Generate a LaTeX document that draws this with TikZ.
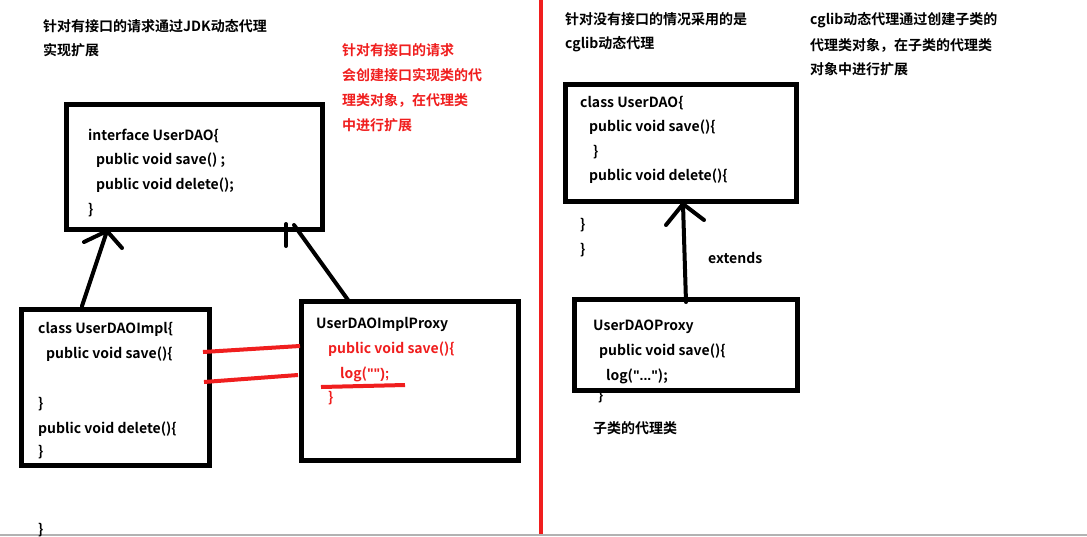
\documentclass[tikz,border=0pt]{standalone}
\usepackage{fontspec}
\setmainfont{Noto Sans CJK SC}[BoldFont={* Bold}]
\newfontfamily\latf{Liberation Sans}
\definecolor{myred}{RGB}{240,30,30}
\begin{document}
\begin{tikzpicture}[x=1pt,y=-1pt,
 t/.style={anchor=west,inner sep=0pt,font=\fontsize{14}{16}\selectfont\bfseries},
 r/.style={t,text=myred},
 bx/.style={draw,line width=5pt},
 ar/.style={line width=4pt,line cap=round},
 rl/.style={draw=myred,line width=4pt}]
\useasboundingbox (0,0) rectangle (1087,536);
\fill[white] (0,0) rectangle (1087,536);
\draw[myred,line width=4pt] (541,0) -- (541,536);
\draw[gray!60,line width=1.5pt] (0,535) -- (1087,535);
% left texts
\node[t] (l1) at (43,26) {针对有接口的请求通过JDK动态代理};
\node[t] (l2) at (43,50) {实现扩展};
\node[r] (r1) at (342,50) {针对有接口的请求};
\node[r] (r2) at (342,75) {会创建接口实现类的代};
\node[r] (r3) at (342,100) {理类对象，在代理类};
\node[r] (r4) at (342,125) {中进行扩展};
% box1
\draw[bx] (66,104) rectangle (322,229);
\coordinate (b1a) at (107,231); \coordinate (b1b) at (294,225);
\node[t] at (88,136) {interface UserDAO\{};
\node[t] at (96,160) {public void save() ;};
\node[t] at (96,185) {public void delete();};
\node[t] at (88,210) {\}};
% box2
\draw[bx] (21,309) rectangle (209,465);
\coordinate (b2t) at (82,306);
\node[t] at (38,329) {class UserDAOImpl\{};
\node[t] at (46,354) {public void save()\{};
\node[t] at (38,404) {\}};
\node[t] at (38,429) {public void delete()\{};
\node[t] at (38,452) {\}};
\node[t] at (38,530) {\}};
% box3
\draw[bx] (301,301) rectangle (518,460);
\coordinate (b3t) at (348,300);
\node[t] at (316,324) {UserDAOImplProxy};
\node[r] at (328,349) {public void save()\{};
\node[r] (lg) at (340,374) {log(\latf\bfseries"");};
\node[r] at (328,398) {\}};
\draw[rl] (321,387) -- (405,385);
\draw[rl] (203,352) -- (300,346);
\draw[rl] (204,382) -- (298,375);
% arrows
\draw[ar] (b2t) -- (b1a);
\draw[ar] (84,242) -- (b1a) -- (122,248);
\draw[ar] (b3t) -- (b1b);
\draw[ar] (286,224) -- (286,246);
% right
\node[t] at (565,19) {针对没有接口的情况采用的是};
\node[t] at (565,44) {cglib动态代理};
\node[t] at (810,20) {cglib动态代理通过创建子类的};
\node[t] at (810,45) {代理类对象，在子类的代理类};
\node[t] at (810,69) {对象中进行扩展};
\draw[bx] (565,84) rectangle (796,201);
\coordinate (b4b) at (683,204);
\node[t] at (580,103) {class UserDAO\{};
\node[t] at (589,127) {public void save()\{};
\node[t] at (593,152) {\}};
\node[t] at (589,176) {public void delete()\{};
\node[t] at (580,225) {\}};
\node[t] at (580,250) {\}};
\draw[bx] (574,299) rectangle (797,390);
\coordinate (b5t) at (686,302);
\draw[ar] (b5t) -- (b4b);
\draw[ar] (666,225) -- (b4b) -- (704,220);
\node[t] at (708,258) {extends};
\node[t] at (593,327) {UserDAOProxy};
\node[t] at (599,351) {public void save()\{};
\node[t] at (606,376) {log({\latf\bfseries"..."});};
\node[t] at (598,396) {\}};
\node[t] at (593,428) {子类的代理类};
\end{tikzpicture}
\end{document}
